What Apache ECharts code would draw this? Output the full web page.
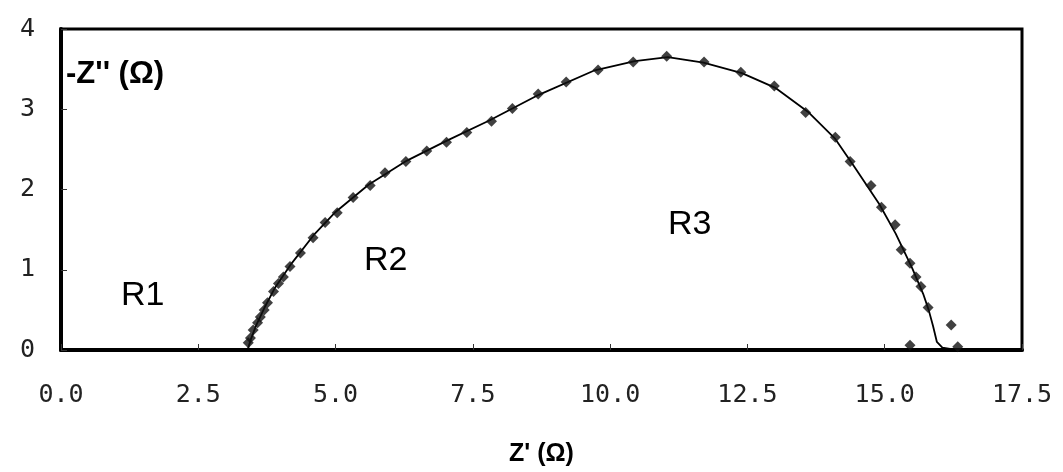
<!DOCTYPE html>
<html>
<head>
<meta charset="utf-8">
<script src="https://cdn.jsdelivr.net/npm/echarts@6/dist/echarts.min.js"></script>
<style>
html,body{margin:0;padding:0;background:#fff;}
#chart{width:1063px;height:472px;}
</style>
</head>
<body>
<div id="chart"></div>
<script>
// Measured impedance points: Z' (Ω) and -Z'' (Ω)
const measZre = [3.41,3.45,3.50,3.58,3.63,3.70,3.76,3.87,3.96,4.05,4.17,4.36,4.59,4.81,5.03,5.32,5.63,5.90,6.28,6.66,7.02,7.39,7.84,8.22,8.69,9.20,9.78,10.42,11.03,11.71,12.38,12.99,13.56,14.10,14.37,14.75,14.94,15.19,15.30,15.46,15.57,15.66,15.79,16.21,15.46,16.33];
const measZim = [0.09,0.15,0.25,0.34,0.41,0.50,0.59,0.73,0.83,0.91,1.04,1.21,1.40,1.59,1.71,1.90,2.05,2.21,2.35,2.48,2.59,2.71,2.85,3.01,3.19,3.34,3.49,3.59,3.66,3.59,3.46,3.29,2.96,2.65,2.35,2.05,1.78,1.56,1.25,1.08,0.91,0.79,0.53,0.31,0.06,0.04];
// Fitted curve
const fitZre = [3.40,3.45,3.55,3.70,3.90,4.20,4.60,5.00,5.60,6.30,7.00,7.80,8.70,9.70,10.45,11.05,11.70,12.40,13.00,13.60,14.10,14.45,14.90,15.20,15.50,15.70,15.80,15.88,15.95,16.05,16.30];
const fitZim = [0.00,0.12,0.30,0.52,0.78,1.08,1.43,1.72,2.06,2.36,2.60,2.86,3.18,3.48,3.60,3.65,3.58,3.45,3.27,2.97,2.63,2.28,1.82,1.45,1.02,0.70,0.50,0.30,0.10,0.03,0.00];
// Axis ticks
const xMin = 0, xMax = 17.5, xStep = 2.5;
const yMin = 0, yMax = 4, yStep = 1;
const xTitle = "Z' (\u03A9)";
const yTitle = "-Z'' (\u03A9)";
const regionLabels = ["R1","R2","R3"];

const chart = echarts.init(document.getElementById('chart'));
const tickFont = {fontFamily:'DejaVu Sans Mono', fontSize:25, color:'#222'};
chart.setOption({
  backgroundColor:'#fff',
  animation:false,
  grid:{left:61,right:41,top:29,bottom:122,show:true,borderColor:'#000',borderWidth:3,backgroundColor:'#fff'},
  xAxis:{
    type:'value',min:xMin,max:xMax,interval:xStep,
    name:xTitle,nameLocation:'middle',nameGap:92,
    nameTextStyle:{fontFamily:'Liberation Sans',fontWeight:'bold',fontSize:25,color:'#000'},
    axisLine:{show:true,onZero:false,lineStyle:{color:'#000',width:4}},
    axisTick:{show:true,inside:true,length:6,lineStyle:{color:'#333',width:1}},
    axisLabel:Object.assign({margin:33,formatter:v=>v.toFixed(1)},tickFont),
    splitLine:{show:false}
  },
  yAxis:{
    type:'value',min:yMin,max:yMax,interval:yStep,
    axisLine:{show:true,onZero:false,lineStyle:{color:'#000',width:4}},
    axisTick:{show:true,inside:true,length:6,lineStyle:{color:'#333',width:1}},
    axisLabel:Object.assign({margin:26},tickFont),
    splitLine:{show:false}
  },
  graphic:[
    {type:'text',left:66,top:59,style:{text:yTitle,font:'bold 31px "Liberation Sans"',fill:'#000'}},
    {type:'text',left:121,top:279,style:{text:regionLabels[0],font:'34px "Liberation Sans"',fill:'#000'}},
    {type:'text',left:364,top:244,style:{text:regionLabels[1],font:'34px "Liberation Sans"',fill:'#000'}},
    {type:'text',left:668,top:208,style:{text:regionLabels[2],font:'34px "Liberation Sans"',fill:'#000'}}
  ],
  series:[
    {type:'line',data:fitZre.map((x,i)=>[x,fitZim[i]]),showSymbol:false,smooth:false,
     lineStyle:{color:'#000',width:1.8},z:2},
    {type:'scatter',data:measZre.map((x,i)=>[x,measZim[i]]),symbol:'diamond',symbolSize:11,
     itemStyle:{color:'#111'},z:3}
  ]
});
</script>
</body>
</html>
